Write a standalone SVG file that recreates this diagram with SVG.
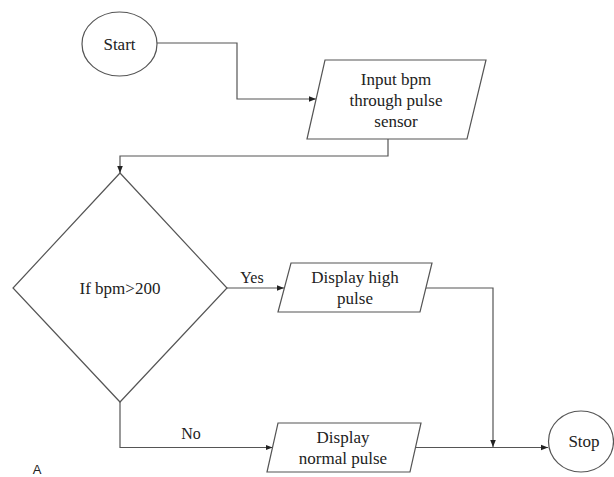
<svg xmlns="http://www.w3.org/2000/svg" width="614" height="477" viewBox="0 0 614 477">
<defs>
<style>
.shape{fill:#fff;stroke:#555;stroke-width:1.2}
.conn{fill:none;stroke:#555;stroke-width:1.2}
.t{font-size:17px;fill:#222;text-anchor:middle}
.lbl{font-size:16px;fill:#222;text-anchor:middle}
</style>
<marker id="arr" markerUnits="userSpaceOnUse" markerWidth="8" markerHeight="8" viewBox="0 0 8 8" refX="7" refY="4" orient="auto">
<path d="M0,1.2 L7,4 L0,6.8 Z" fill="#222"/>
</marker>
</defs>
<rect width="614" height="477" fill="#fff"/>
<g font-family="'Liberation Serif', 'Times New Roman', serif">
<g id="connectors">
<path class="conn" d="M157,43 H237 V99 H316" marker-end="url(#arr)"/>
<path class="conn" d="M388,139 V156 H120 V173" marker-end="url(#arr)"/>
<path class="conn" d="M227,288 H284" marker-end="url(#arr)"/>
<path class="conn" d="M426,288 H493 V447" marker-end="url(#arr)"/>
<path class="conn" d="M120,402 V447.5 H272.5" marker-end="url(#arr)"/>
<path class="conn" d="M415.5,447.5 H548" marker-end="url(#arr)"/>
<text class="lbl" x="252" y="283">Yes</text>
<text class="lbl" x="191" y="439">No</text>
</g>
<g id="start">
<ellipse class="shape" cx="119.5" cy="44" rx="37.5" ry="32"/>
<text class="t" x="119.5" y="50">Start</text>
</g>
<g id="input">
<polygon class="shape" points="325,60 486,60 467,139 307,139"/>
<text class="t" x="396" y="85">Input bpm</text>
<text class="t" x="396" y="106">through pulse</text>
<text class="t" x="396" y="127">sensor</text>
</g>
<g id="decision">
<polygon class="shape" points="120,173 227,288 120,402 13,288"/>
<text class="t" x="120" y="294">If bpm&gt;200</text>
</g>
<g id="high">
<polygon class="shape" points="291,263 432,263 420,312 278,312"/>
<text class="t" x="355" y="283">Display high</text>
<text class="t" x="355" y="304">pulse</text>
</g>
<g id="normal">
<polygon class="shape" points="278,423 421,423 410,472 267,472"/>
<text class="t" x="343" y="443">Display</text>
<text class="t" x="343" y="464">normal pulse</text>
</g>
<g id="stop">
<ellipse class="shape" cx="581" cy="441.5" rx="32.5" ry="30.5"/>
<text class="t" x="584" y="447">Stop</text>
</g>
</g>
<text x="37" y="474" font-family="'Liberation Sans', Arial, sans-serif" font-size="13" fill="#222" text-anchor="middle">A</text>
</svg>
